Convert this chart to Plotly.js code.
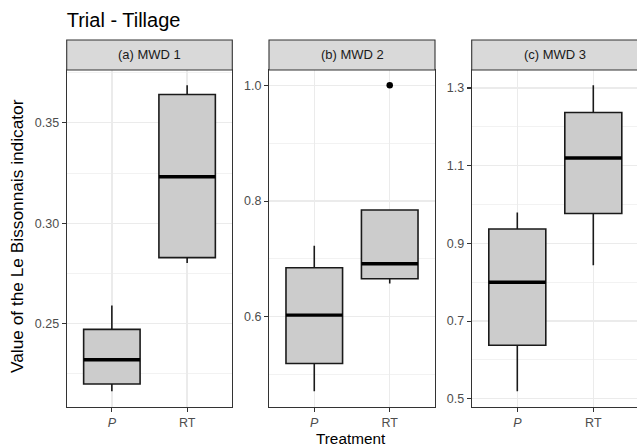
<!DOCTYPE html>
<html>
<head>
<meta charset="utf-8">
<script src="https://cdn.plot.ly/plotly-3.0.1.min.js"></script>
<style>html,body{margin:0;padding:0;background:#fff}#chart{width:637px;height:448px}</style>
</head>
<body>
<div id="chart"></div>
<script>
// ---- data ----
const categories = ['P', 'RT'];
const tickLabels = ['<i>P</i>', 'RT'];
const panelTitles = ['(a) MWD 1', '(b) MWD 2', '(c) MWD 3'];

const mwd1Lower  = [0.2164, 0.2802];
const mwd1Q1     = [0.2200, 0.2829];
const mwd1Median = [0.2321, 0.3232];
const mwd1Q3     = [0.2472, 0.3641];
const mwd1Upper  = [0.2591, 0.3687];

const mwd2Lower  = [0.4715, 0.6577];
const mwd2Q1     = [0.5194, 0.6657];
const mwd2Median = [0.6030, 0.6917];
const mwd2Q3     = [0.6847, 0.7845];
const mwd2Upper  = [0.7228, 0.7845];
const mwd2OutlierCat = ['RT'];
const mwd2OutlierVal = [1.0];

const mwd3Lower  = [0.5195, 0.8435];
const mwd3Q1     = [0.6376, 0.9770];
const mwd3Median = [0.7999, 1.1198];
const mwd3Q3     = [0.9370, 1.2368];
const mwd3Upper  = [0.9796, 1.3069];

// ---- build ----
const W = 637, H = 448;
const pos = categories.map((c, i) => i + 1);
const boxW = 0.75;
const panels = [
  {lo: mwd1Lower, q1: mwd1Q1, med: mwd1Median, q3: mwd1Q3, hi: mwd1Upper},
  {lo: mwd2Lower, q1: mwd2Q1, med: mwd2Median, q3: mwd2Q3, hi: mwd2Upper},
  {lo: mwd3Lower, q1: mwd3Q1, med: mwd3Median, q3: mwd3Q3, hi: mwd3Upper}
];
const xPix = [[66.7, 232.3], [269, 435], [471.7, 637]];
const xRanges = [[0.4, 2.6], [0.4, 2.6], [0.4, 0.4 + 165.3 / 76]];
const yRanges = [[0.2088, 0.3763], [0.4451, 1.0264], [0.4801, 1.3463]];
const yTicks = [
  {tick0: 0, dtick: 0.05, fmt: '.2f', mt0: 0, mdt: 0.025},
  {tick0: 0, dtick: 0.2, fmt: '.1f', mt0: 0, mdt: 0.1},
  {tick0: 0.1, dtick: 0.2, fmt: '.1f', mt0: 0, mdt: 0.1}
];
const panelTop = 70, panelBot = 406.5, stripTop = 40;
const yDom = [1 - panelBot / H, 1 - panelTop / H];

const font = 'Liberation Sans, Arial, Helvetica, sans-serif';
const traces = [];
const layout = {
  width: W, height: H,
  margin: {l: 0, r: 0, t: 0, b: 0, pad: 0},
  paper_bgcolor: '#ffffff', plot_bgcolor: '#ffffff',
  showlegend: false, boxmode: 'overlay',
  font: {family: font, color: '#4D4D4D'},
  title: {
    text: 'Trial - Tillage', x: 66.7 / W, xanchor: 'left', xref: 'paper',
    y: 1 - 20 / H, yanchor: 'middle', yref: 'container',
    font: {family: font, size: 20, color: '#000000'}
  },
  shapes: [], annotations: []
};

panels.forEach((p, k) => {
  const n = k === 0 ? '' : String(k + 1);
  const xa = 'x' + n, ya = 'y' + n;
  traces.push({
    type: 'box', xaxis: xa, yaxis: ya,
    x: pos, q1: p.q1, median: p.med, q3: p.q3, lowerfence: p.lo, upperfence: p.hi,
    width: boxW, whiskerwidth: 0, boxpoints: false,
    fillcolor: '#CCCCCC', line: {color: '#1A1A1A', width: 1.6},
    hoverinfo: 'skip'
  });
  // thicker median bars (ggplot fatten)
  const mx = [], my = [];
  pos.forEach((x, i) => { mx.push(x - boxW / 2, x + boxW / 2, null); my.push(p.med[i], p.med[i], null); });
  traces.push({type: 'scatter', mode: 'lines', xaxis: xa, yaxis: ya, x: mx, y: my,
    line: {color: '#000000', width: 3.4}, hoverinfo: 'skip', cliponaxis: true});

  const d0 = xPix[k][0] / W, d1 = Math.min(1, xPix[k][1] / W);
  layout['xaxis' + n] = {
    domain: [d0, d1], anchor: ya, range: xRanges[k],
    tickmode: 'array', tickvals: pos, ticktext: tickLabels,
    showgrid: true, gridcolor: '#EBEBEB', gridwidth: 1.3, zeroline: false,
    showline: true, mirror: true, linecolor: '#333333', linewidth: 1.1,
    ticks: 'outside', ticklen: 4, tickcolor: '#333333', tickwidth: 1.1,
    tickfont: {family: font, size: 12.5, color: '#4D4D4D'}, fixedrange: true
  };
  layout['yaxis' + n] = {
    domain: yDom, anchor: xa, range: yRanges[k],
    tick0: yTicks[k].tick0, dtick: yTicks[k].dtick, tickformat: yTicks[k].fmt,
    showgrid: true, gridcolor: '#EBEBEB', gridwidth: 1.3, zeroline: false,
    minor: {tick0: yTicks[k].mt0, dtick: yTicks[k].mdt, showgrid: true, gridcolor: '#EBEBEB', gridwidth: 0.65, ticks: ''},
    showline: true, mirror: true, linecolor: '#333333', linewidth: 1.1,
    ticks: 'outside', ticklen: 4, tickcolor: '#333333', tickwidth: 1.1,
    tickfont: {family: font, size: 12.5, color: '#4D4D4D'}, fixedrange: true
  };
  // strip
  layout.shapes.push({type: 'rect', xref: 'paper', yref: 'paper',
    x0: xPix[k][0] / W, x1: xPix[k][1] / W + (k === 2 ? 0.01 : 0),
    y0: 1 - panelTop / H, y1: 1 - stripTop / H,
    fillcolor: '#D9D9D9', line: {color: '#333333', width: 1.1}, layer: 'above'});
  const cx = k === 2 ? (471.7 + 638.9) / 2 : (xPix[k][0] + xPix[k][1]) / 2;
  layout.annotations.push({text: panelTitles[k], xref: 'paper', yref: 'paper',
    x: cx / W, y: 1 - 55 / H, xanchor: 'center', yanchor: 'middle', showarrow: false,
    font: {family: font, size: 13, color: '#1A1A1A'}});
});

// outlier
traces.push({type: 'scatter', mode: 'markers', xaxis: 'x2', yaxis: 'y2',
  x: mwd2OutlierCat.map(c => categories.indexOf(c) + 1), y: mwd2OutlierVal,
  marker: {color: '#000000', size: 6.5}, hoverinfo: 'skip'});

layout.annotations.push({text: 'Value of the Le Bissonnais indicator', xref: 'paper', yref: 'paper',
  x: 17 / W, y: 1 - 236 / H, xanchor: 'center', yanchor: 'middle', textangle: -90, showarrow: false,
  font: {family: font, size: 17.3, color: '#000000'}});
layout.annotations.push({text: 'Treatment', xref: 'paper', yref: 'paper',
  x: 351 / W, y: 1 - 438 / H, xanchor: 'center', yanchor: 'middle', showarrow: false,
  font: {family: font, size: 15.3, color: '#000000'}});

Plotly.newPlot('chart', traces, layout, {displayModeBar: false, staticPlot: true});
</script>
</body>
</html>
